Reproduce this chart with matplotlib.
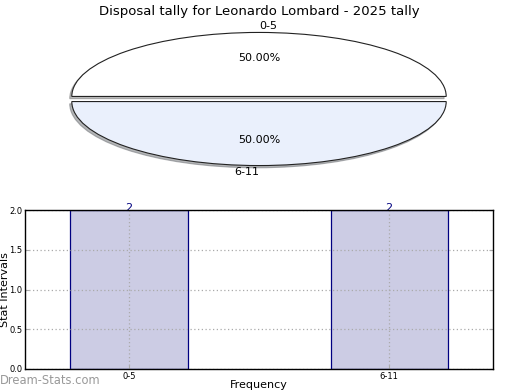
import matplotlib
matplotlib.use("Agg")
import matplotlib.pyplot as plt

title = "Disposal tally for Leonardo Lombard - 2025 tally"
categories = ["0-5", "6-11"]
counts = [2, 2]
pie_colors = ["#ffffff", "#eaf0fc"]
bar_color = "#ccccE4"
edge_color = "#000080"

fig = plt.figure(figsize=(5.2, 3.9), dpi=100)

# Pie
ax1 = fig.add_axes([25/520, 1-179/390, 468/520, 160/390])
wedges, texts, autotexts = ax1.pie(
    counts, labels=categories, colors=pie_colors, autopct="%.2f%%",
    startangle=0, explode=[0.04, 0.04],
    shadow=dict(ox=-0.008, oy=-0.025, shade=0.55),
    wedgeprops=dict(edgecolor="#222222", linewidth=0.8),
    textprops=dict(fontsize=8))
texts[0].set_ha("left")
texts[1].set_ha("right")
ax1.set_aspect("auto")
ax1.set_xlim(-1.25, 1.25)
ax1.set_ylim(-1.25, 1.25)
ax1.set_title(title, fontsize=9.5, pad=3)

# Bar
ax2 = fig.add_axes([25/520, 1-369/390, 468/520, 159/390])
x = list(range(len(categories)))
bars = ax2.bar(x, counts, width=0.45, color=bar_color, edgecolor=edge_color,
               linewidth=0.9, zorder=2)
for xi, c in zip(x, counts):
    ax2.annotate(str(c), (xi, c), xytext=(0, -2), textcoords="offset points",
                 ha="center", va="bottom", fontsize=8, color=edge_color,
                 zorder=4)
ax2.set_xlim(-0.4, 1.4)
ax2.set_ylim(0, 2.0)
ax2.set_xticks(x)
ax2.set_xticklabels(categories, fontsize=6)
ax2.set_yticks([0.0, 0.5, 1.0, 1.5, 2.0])
ax2.set_yticklabels(["0.0", "0.5", "1.0", "1.5", "2.0"], fontsize=6)
ax2.tick_params(direction="in", length=3, color="#aaaaaa", pad=2,
                top=False, right=True)
ax2.grid(True, linestyle=(0, (1, 2)), color="#aaaaaa", linewidth=0.9, zorder=3)
ax2.set_axisbelow(False)
for s in ax2.spines.values():
    s.set_linewidth(1.0)
    s.set_zorder(5)
ax2.set_ylabel("Stat Intervals", fontsize=8)
ax2.set_xlabel("Frequency", fontsize=8)
ax2.yaxis.set_label_coords(-0.033, 0.5)
ax2.xaxis.set_label_coords(0.5, -0.07)

fig.text(0.0, 1-381/390, "Dream-Stats.com", fontsize=8.3, color="#999999",
         ha="left", va="center")

fig.savefig("out.png", dpi=100)
